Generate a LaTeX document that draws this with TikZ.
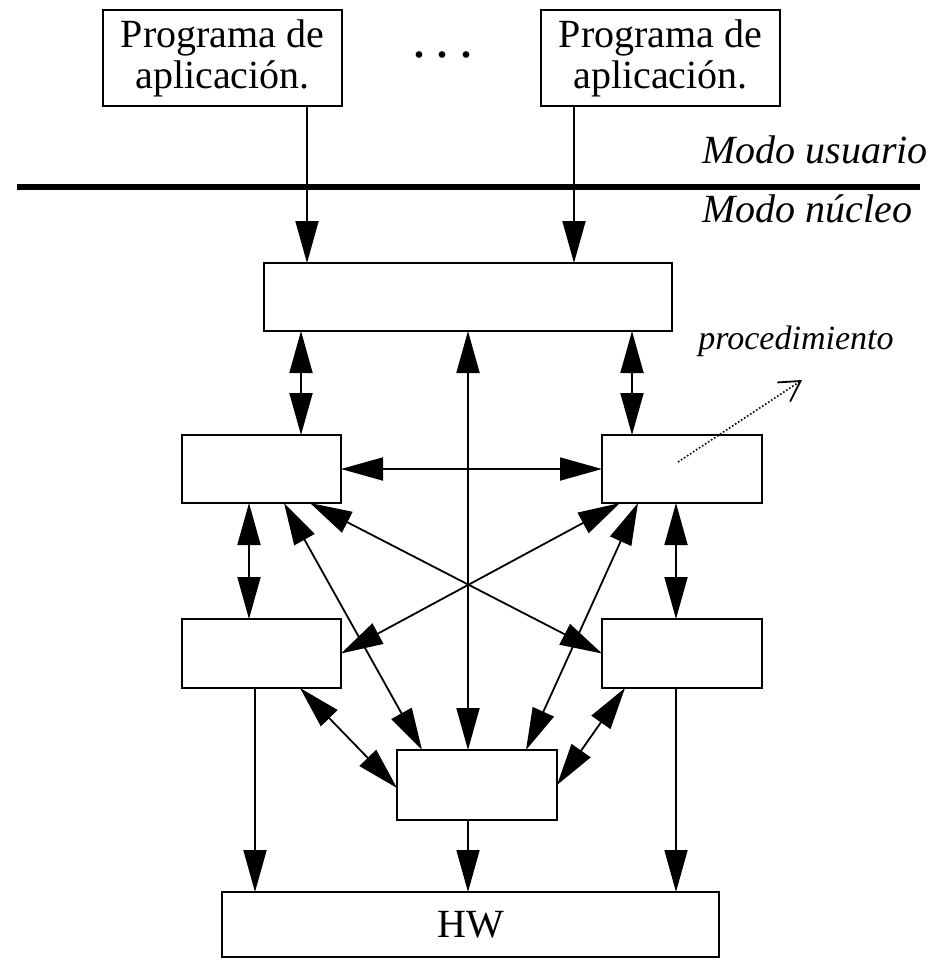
\documentclass[tikz,border=0pt]{standalone}
\usepackage{fontspec}
\setmainfont{Liberation Serif}
\usetikzlibrary{arrows.meta}
\begin{document}
\begin{tikzpicture}[x=0.5pt,y=-0.5pt,
  box/.style={draw,line width=1pt,inner sep=0pt,outer sep=0pt,align=center,
    font=\fontsize{20}{20.5}\selectfont},
  con/.style={line width=0.9pt},
  tip/.style={-{Triangle[length=21pt,width=11.5pt]}},
  dbl/.style={{Triangle[length=21pt,width=11.5pt]}-{Triangle[length=21pt,width=11.5pt]}},
  lbl/.style={inner sep=0pt,anchor=base west,font=\fontsize{20}{20.5}\selectfont\itshape}
]
\useasboundingbox (0,0) rectangle (929,959);

% boxes
\node[box,minimum width=119.5pt,minimum height=48pt] (P1) at (222.5,58) {Programa de\\aplicación.};
\node[box,minimum width=119.5pt,minimum height=48pt] (P2) at (660.5,58) {Programa de\\aplicación.};
\node[inner sep=0pt,anchor=base,font=\fontsize{28}{28}\selectfont] (dots) at (443,57) {.\kern4.75pt.\kern4.75pt.};
\node[box,minimum width=204pt,minimum height=34pt] (T) at (468,297) {};
\node[box,minimum width=79.5pt,minimum height=34pt] (A) at (261.5,469) {};
\node[box,minimum width=80pt,minimum height=34pt] (B) at (682,469) {};
\node[box,minimum width=79.5pt,minimum height=34.5pt] (C) at (261.5,653.5) {};
\node[box,minimum width=80pt,minimum height=34.5pt] (D) at (682,653.5) {};
\node[box,minimum width=80pt,minimum height=35pt] (E) at (477,785) {};
\node[box,minimum width=248.5pt,minimum height=32.5pt] (HW) at (470.5,924.5) {HW};

% mode line and labels
\coordinate (L1) at (17,187);
\coordinate (L2) at (920,187);
\draw[line width=3pt] (L1) -- (L2);
\node[lbl] (mu) at (702,163) {Modo usuario};
\node[lbl] (mn) at (702,222) {Modo núcleo};
\node[lbl,font=\fontsize{17}{17}\selectfont\itshape] (proc) at (698,349) {procedimiento};

% column / row helper coordinates
\foreach \xx in {249,255,284,300,301,307,310,422,468,526,574,620,625,632,638,676}
  {\coordinate (x\xx) at (\xx,0);}
\coordinate (y788) at (0,788);
\coordinate (y785) at (0,785);

% connectors
\draw[con,tip] (P1.south -| x307) -- (T.north -| x307);
\draw[con,tip] (P2.south -| x574) -- (T.north -| x574);
\draw[con,dbl] (T.south -| x301) -- (A.north -| x301);
\draw[con,dbl] (T.south -| x632) -- (B.north -| x632);
\draw[con,dbl] (T.south -| x468) -- (E.north -| x468);
\draw[con,dbl] (A.east) -- (B.west);
\draw[con,dbl] (A.south -| x249) -- (C.north -| x249);
\draw[con,dbl] (B.south -| x676) -- (D.north -| x676);
\draw[con,dbl] (A.south -| x310) -- (D.west);
\draw[con,dbl] (B.south -| x620) -- (C.east);
\draw[con,dbl] (A.south -| x284) -- (E.north -| x422);
\draw[con,dbl] (B.south -| x638) -- (E.north -| x526);
\draw[con,dbl] (C.south -| x300) -- (E.west |- y788);
\draw[con,dbl] (D.south -| x625) -- (E.east |- y785);
\draw[con,tip] (C.south -| x255) -- (HW.north -| x255);
\draw[con,tip] (E.south -| x468) -- (HW.north -| x468);
\draw[con,tip] (D.south -| x676) -- (HW.north -| x676);

% dotted pointer
\coordinate (d1) at (678,462);
\coordinate (d2) at (802,380);
\draw[line width=0.8pt,densely dotted,-{Straight Barb[length=10pt,width=11.5pt,line width=0.9pt]}] (d1) -- (d2);
\end{tikzpicture}
\end{document}
